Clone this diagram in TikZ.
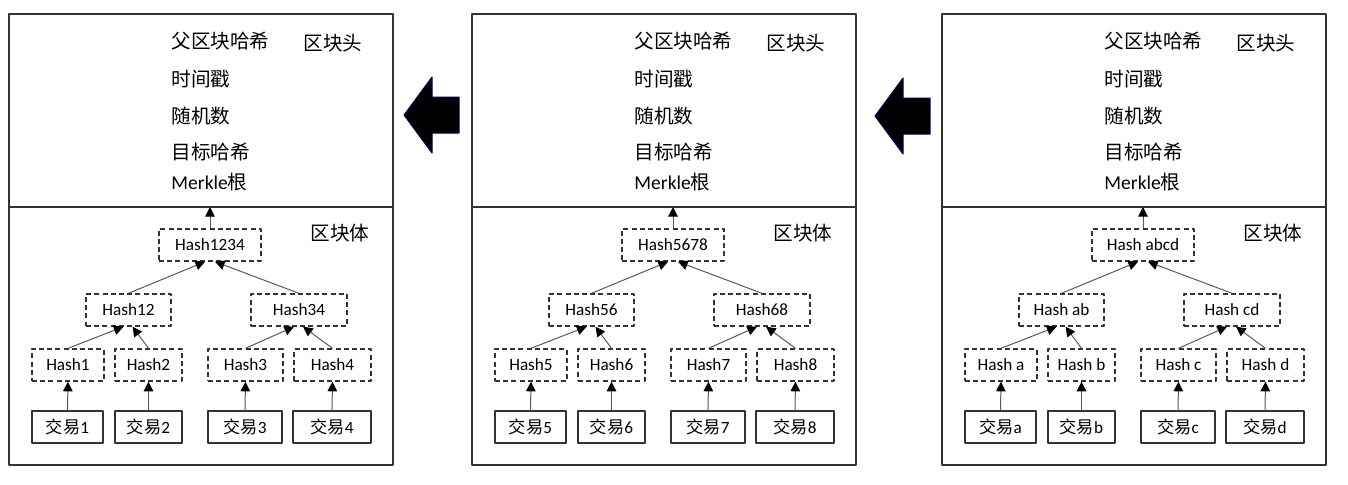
\documentclass[tikz,border=0pt]{standalone}
\usepackage{fontspec}
\setmainfont{Carlito}
\newfontfamily\cjk{Noto Sans CJK SC}
\usetikzlibrary{arrows.meta}
\tikzset{
	blockline/.style={draw=black!80,line width=1pt},
	hashbox/.style={draw=black!80,dashed,dash pattern=on 2.5pt off 1.6pt,line width=0.7pt,minimum height=16pt,inner sep=0pt,font=\fontsize{8.6}{10}\selectfont},
	txbox/.style={draw=black!80,line width=0.8pt,minimum height=16pt,inner sep=0pt,font=\fontsize{8.6}{10}\selectfont},
	link/.style={-{Triangle[length=4.8pt,width=4.8pt,color=black]},draw=black!65,line width=0.5pt},
	headtext/.style={anchor=base west,inner sep=0pt,font=\fontsize{9.8}{12}\selectfont},
	bigarrow/.style={fill=black,draw=blue!35!black,line width=0.5pt}
}
\begin{document}
\begin{tikzpicture}[x=0.5pt,y=-0.5pt,line join=round]
	\useasboundingbox (0,0) rectangle (1348,484);
	% three blocks, newest on the right
	\foreach \dx/\i/\top/\lft/\rgt/\sp/\a/\b/\c/\d in {0/1/1234/12/34/{}/1/2/3/4,463/2/5678/56/68/{}/5/6/7/8,933/3/abcd/ab/cd/~/a/b/c/d}
	{
		\begin{scope}[shift={(\dx,0)}]
			\draw[blockline] (9,14) rectangle (393,465);
			\draw[blockline] (9,207) coordinate (div\i) -- (393,207);
			% block header
			\node[headtext] (parent\i) at (171,48) {\cjk 父区块哈希};
			\node[headtext] (head\i) at (303,50) {\cjk 区块头};
			\node[headtext] (time\i) at (171,86) {\cjk 时间戳};
			\node[headtext] (nonce\i) at (171,123) {\cjk 随机数};
			\node[headtext] (target\i) at (171,159) {\cjk 目标哈希};
			\node[headtext] (merkle\i) at (171,189) {Merkle{\cjk 根}};
			\node[headtext] (body\i) at (310,240) {\cjk 区块体};
			% merkle tree
			\node[hashbox,minimum width=51pt] (root\i) at (210,245) {Hash\sp\top};
			\node[hashbox,minimum width=42.5pt] (left\i) at (128.5,310) {Hash\sp\lft};
			\node[hashbox,minimum width=48pt] (right\i) at (299,310) {Hash\sp\rgt};
			\node[hashbox,minimum width=36pt] (ha\i) at (68,365) {Hash\sp\a};
			\node[hashbox,minimum width=33.5pt] (hb\i) at (148.5,365) {Hash\sp\b};
			\node[hashbox,minimum width=37.5pt] (hc\i) at (245.5,365) {Hash\sp\c};
			\node[hashbox,minimum width=38.5pt] (hd\i) at (332.5,365) {Hash\sp\d};
			\node[txbox,minimum width=35.5pt] (ta\i) at (67.5,427) {{\cjk 交易}\a};
			\node[txbox,minimum width=33.5pt] (tb\i) at (148.5,427) {{\cjk 交易}\b};
			\node[txbox,minimum width=37pt] (tc\i) at (245,427) {{\cjk 交易}\c};
			\node[txbox,minimum width=39pt] (td\i) at (332,427) {{\cjk 交易}\d};
			\foreach \t in {a,b,c,d}
			\draw[link] (t\t\i.north) -- (h\t\i.south);
			\draw[link] (ha\i.north) -- ([xshift=-2.5pt]left\i.south);
			\draw[link] (hb\i.north) -- ([xshift=2pt]left\i.south);
			\draw[link] (hc\i.north) -- ([xshift=-2.5pt]right\i.south);
			\draw[link] (hd\i.north) -- ([xshift=2pt]right\i.south);
			\draw[link] (left\i.north) -- ([xshift=-2.5pt]root\i.south);
			\draw[link] (right\i.north) -- ([xshift=2.5pt]root\i.south);
			\draw[link] (root\i.north) -- (root\i.north |- div\i);
		\end{scope}
	}
	% arrows between blocks
	\foreach \ax/\ay in {0/0,471/1}
	\draw[bigarrow,shift={(\ax,\ay)}] (404,115) -- (432,77) -- (432,97) -- (459,97)
		-- (459,133) -- (432,133) -- (432,153) -- cycle;
\end{tikzpicture}
\end{document}
